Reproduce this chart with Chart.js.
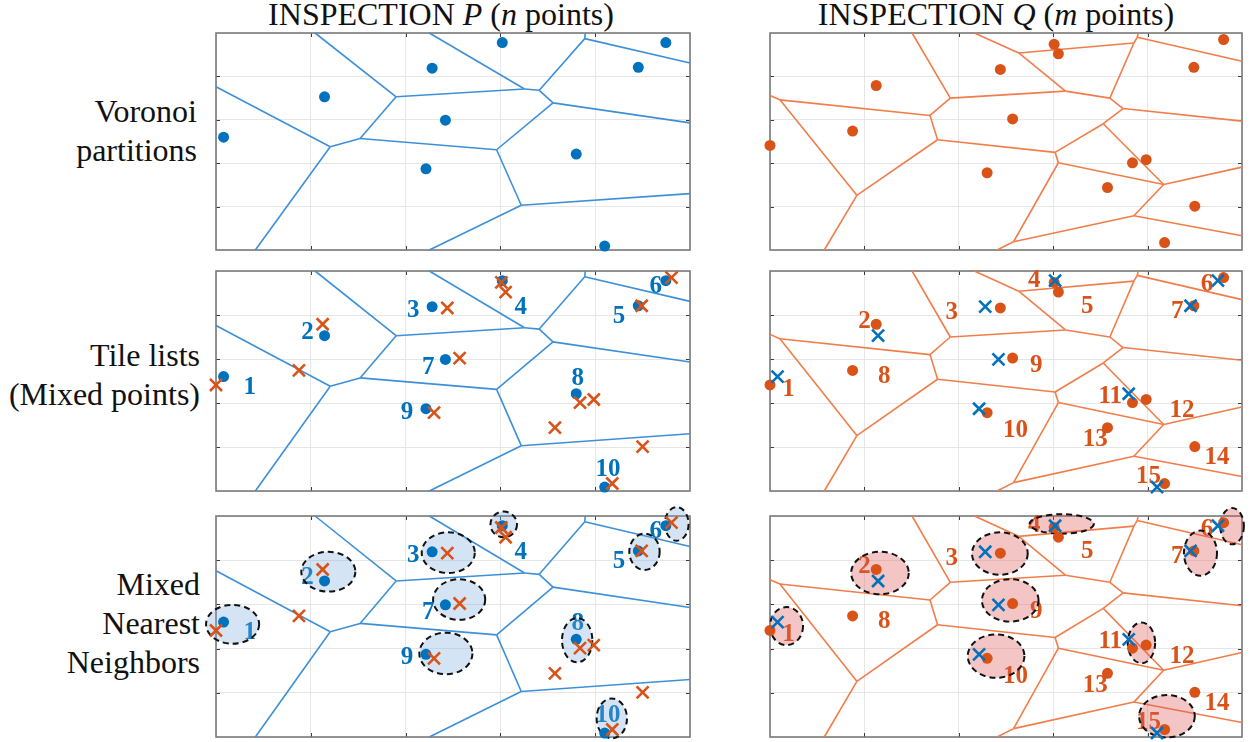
<!DOCTYPE html>
<html>
<head>
<meta charset="utf-8">
<title>Voronoi inspection</title>
<script src="https://cdn.jsdelivr.net/npm/chart.js@4.4.1/dist/chart.umd.min.js"></script>
<style>
  body { margin: 0; background: #fff; width: 1250px; height: 742px; position: relative; overflow: hidden;
         font-family: "Liberation Serif", "Times New Roman", serif; color: #111; }
  .title { position: absolute; top: -5px; font-size: 32px; line-height: 38px; text-align: center; white-space: nowrap; }
  .row { position: absolute; left: 0; width: 200px; text-align: right; font-size: 32px; line-height: 39px; white-space: nowrap; }
  .panel { position: absolute; }
</style>
</head>
<body>
<div class="title" style="left:204px;width:474px">INSPECTION <i>P</i> (<i>n</i> points)</div>
<div class="title" style="left:760px;width:472px">INSPECTION <i>Q</i> (<i>m</i> points)</div>
<div class="row" style="top:92px;width:197px">Voronoi<br>partitions</div>
<div class="row" style="top:336px">Tile lists<br>(Mixed points)</div>
<div class="row" style="top:565px">Mixed<br>Nearest<br>Neighbors</div>

<div class="panel" id="p1"><canvas id="cP1"></canvas></div>
<div class="panel" id="q1"><canvas id="cQ1"></canvas></div>
<div class="panel" id="p2"><canvas id="cP2"></canvas></div>
<div class="panel" id="q2"><canvas id="cQ2"></canvas></div>
<div class="panel" id="p3"><canvas id="cP3"></canvas></div>
<div class="panel" id="q3"><canvas id="cQ3"></canvas></div>

<script>
// axes: x 0..10, y 0..5 (grid every 2 / 1)
const X_TICKS = [2, 4, 6, 8];
const Y_TICKS = [1, 2, 3, 4];

// inspection P points (n = 10)
const P_X = [0.16, 2.29, 4.56, 6.04, 8.91, 9.49, 4.84, 7.60, 4.43, 8.20];
const P_Y = [2.60, 3.53, 4.19, 4.78, 4.21, 4.78, 2.99, 2.21, 1.87, 0.09];
// inspection Q points (m = 15)
const Q_X = [0.00, 2.25, 4.88, 6.02, 6.11, 9.61, 8.98, 1.75, 5.14, 4.60, 7.68, 7.97, 7.15, 9.00, 8.36];
const Q_Y = [2.41, 3.79, 4.16, 4.74, 4.52, 4.85, 4.21, 2.74, 3.02, 1.78, 2.01, 2.08, 1.44, 1.01, 0.17];

// number labels
const P_LBL_X = [0.71, 1.93, 4.16, 6.43, 8.50, 9.28, 4.48, 7.63, 4.03, 8.27];
const P_LBL_Y = [2.38, 3.63, 4.12, 4.20, 3.99, 4.67, 2.83, 2.58, 1.81, 0.51];
const Q_LBL_X = [0.39, 2.00, 3.85, 5.60, 6.72, 9.26, 8.63, 2.42, 5.64, 5.20, 7.21, 8.73, 6.89, 9.47, 8.02];
const Q_LBL_Y = [2.33, 3.88, 4.07, 4.81, 4.22, 4.71, 4.10, 2.63, 2.87, 1.40, 2.18, 1.84, 1.19, 0.78, 0.36];

// Voronoi vertices + edges for P
const P_VX = [2.09, 3.80, 0.00, 2.41, 3.04, 0.83, 4.50, 6.51, 6.82, 7.78, 7.79, 10.0, 7.11, 10.0, 5.92, 6.44, 10.0, 4.50];
const P_VY = [5.00, 3.53, 3.76, 2.38, 2.57, 0.00, 5.00, 3.71, 3.68, 4.87, 5.00, 4.31, 3.39, 2.93, 2.31, 1.03, 1.30, 0.00];
const P_EDGES = [[0,1],[2,3],[3,4],[4,1],[3,5],[6,7],[7,8],[1,7],[8,9],[9,10],[9,11],
                 [8,12],[12,13],[12,14],[4,14],[14,15],[15,16],[15,17]];

// Voronoi vertices + edges for Q
const Q_VX = [3.01, 3.82, 0.00, 0.21, 3.39, 3.55, 1.84, 1.15, 4.33, 5.27, 6.26, 7.78, 7.80, 7.71,
              10.0, 7.20, 7.48, 10.0, 7.06, 6.04, 6.11, 8.34, 10.0, 7.71, 10.0, 5.16, 4.81];
const Q_VY = [5.00, 3.50, 3.56, 3.46, 3.10, 2.54, 1.26, 0.00, 5.00, 4.54, 3.66, 4.90, 5.00, 4.77,
              4.35, 3.50, 3.26, 2.97, 2.91, 2.25, 2.01, 1.51, 1.91, 0.79, 0.33, 0.19, 0.00];
const Q_EDGES = [[0,1],[2,3],[3,4],[4,1],[4,5],[3,6],[6,5],[6,7],[1,10],[8,9],[9,10],[9,13],
                 [11,12],[11,14],[11,13],[13,15],[10,15],[15,16],[16,17],[16,18],[18,19],[18,21],
                 [5,19],[19,20],[20,21],[21,22],[21,23],[23,24],[23,25],[20,25],[25,26]];

// nearest-neighbour groups (centre x, centre y, radius x, radius y)
const P_ELL_X  = [0.35, 2.37, 4.90, 6.07, 9.04, 9.72, 5.13, 7.62, 4.85, 8.35];
const P_ELL_Y  = [2.55, 3.74, 4.17, 4.81, 4.19, 4.82, 3.11, 2.19, 1.89, 0.42];
const P_ELL_RX = [0.56, 0.57, 0.56, 0.28, 0.32, 0.25, 0.55, 0.32, 0.56, 0.32];
const P_ELL_RY = [0.44, 0.45, 0.46, 0.29, 0.41, 0.38, 0.46, 0.50, 0.47, 0.45];
const Q_ELL_X  = [0.35, 2.33, 4.87, 6.18, 9.79, 9.12, 5.09, 4.79, 7.87, 8.41];
const Q_ELL_Y  = [2.51, 3.71, 4.15, 4.82, 4.77, 4.16, 3.09, 1.83, 2.13, 0.47];
const Q_ELL_RX = [0.35, 0.61, 0.59, 0.68, 0.25, 0.35, 0.60, 0.60, 0.29, 0.59];
const Q_ELL_RY = [0.43, 0.48, 0.48, 0.22, 0.41, 0.51, 0.48, 0.49, 0.46, 0.48];

const BLUE = '#0072BD', ORANGE = '#D95319';
const BLUE_LINE = '#3d90d8', ORANGE_LINE = '#f07d4a';
const PAD = 22;

function pts(xs, ys) {
  return xs.map((x, i) => ({ x: x, y: ys[i] }));
}

function edgeSets(vx, vy, edges, color) {
  return edges.map(e => ({
    data: [{ x: vx[e[0]], y: vy[e[0]] }, { x: vx[e[1]], y: vy[e[1]] }],
    showLine: true, borderColor: color, borderWidth: 1.6, pointRadius: 0, clip: false
  }));
}

function dotSet(xs, ys, color) {
  return { data: pts(xs, ys), pointStyle: 'circle', pointRadius: 5.5, borderWidth: 0,
           backgroundColor: color, borderColor: color, showLine: false, clip: false };
}

function crossSet(xs, ys, color) {
  return { data: pts(xs, ys), pointStyle: 'crossRot', pointRadius: 8.5, borderWidth: 2.6,
           borderColor: color, backgroundColor: color, showLine: false, clip: false };
}

// box, inside ticks, labels and ellipses
function decor(cfg) {
  return {
    id: 'decor',
    beforeDatasetsDraw(chart) {
      const { ctx, chartArea: a, scales: { x, y } } = chart;
      ctx.save();
      ctx.strokeStyle = '#3a3a3a';
      ctx.lineWidth = 1;
      ctx.beginPath();
      X_TICKS.forEach(v => {
        const px = Math.round(x.getPixelForValue(v)) + 0.5;
        ctx.moveTo(px, a.top); ctx.lineTo(px, a.top + 4);
        ctx.moveTo(px, a.bottom); ctx.lineTo(px, a.bottom - 4);
      });
      Y_TICKS.forEach(v => {
        const py = Math.round(y.getPixelForValue(v)) + 0.5;
        ctx.moveTo(a.left, py); ctx.lineTo(a.left + 4, py);
        ctx.moveTo(a.right, py); ctx.lineTo(a.right - 4, py);
      });
      ctx.stroke();
      ctx.strokeStyle = '#7a7a7a';
      ctx.lineWidth = 1.6;
      ctx.strokeRect(a.left, a.top, a.right - a.left, a.bottom - a.top);
      ctx.restore();
    },
    beforeDatasetDraw(chart, args) {
      if (args.index !== cfg.dotIndex) return;
      const { ctx, scales: { x, y } } = chart;
      ctx.save();
      if (cfg.lblX) {
        ctx.font = 'bold 25px "Liberation Serif"';
        ctx.fillStyle = cfg.lblColor;
        ctx.textAlign = 'center';
        ctx.textBaseline = 'middle';
        cfg.lblX.forEach((lx, i) => {
          ctx.fillText(String(i + 1), x.getPixelForValue(lx), y.getPixelForValue(cfg.lblY[i]) + 1);
        });
      }
      if (cfg.ellX) {
        cfg.ellX.forEach((ex, i) => {
          const cx = x.getPixelForValue(ex), cy = y.getPixelForValue(cfg.ellY[i]);
          const rx = Math.abs(x.getPixelForValue(ex + cfg.ellRX[i]) - cx);
          const ry = Math.abs(y.getPixelForValue(cfg.ellY[i] + cfg.ellRY[i]) - cy);
          ctx.beginPath();
          ctx.ellipse(cx, cy, rx, ry, 0, 0, Math.PI * 2);
          ctx.fillStyle = cfg.ellFill;
          ctx.fill();
          ctx.setLineDash([6, 4]);
          ctx.lineWidth = 2;
          ctx.strokeStyle = '#111';
          ctx.stroke();
          ctx.setLineDash([]);
        });
      }
      ctx.restore();
    }
  };
}

function makePanel(divId, canvasId, left, top, w, h, datasets, cfg) {
  const div = document.getElementById(divId);
  div.style.left = (left - PAD) + 'px';
  div.style.top = (top - PAD) + 'px';
  const canvas = document.getElementById(canvasId);
  canvas.width = w + 2 * PAD;
  canvas.height = h + 2 * PAD;
  new Chart(canvas, {
    type: 'scatter',
    data: { datasets: datasets },
    options: {
      responsive: false,
      animation: false,
      devicePixelRatio: 1,
      events: [],
      layout: { padding: PAD, autoPadding: false },
      plugins: { legend: { display: false }, tooltip: { enabled: false } },
      scales: {
        x: { min: 0, max: 10, ticks: { display: false, stepSize: 2 },
             grid: { color: '#e6e6e6', lineWidth: 1, drawTicks: false }, border: { display: false } },
        y: { min: 0, max: 5, ticks: { display: false, stepSize: 1 },
             grid: { color: '#e6e6e6', lineWidth: 1, drawTicks: false }, border: { display: false } }
      }
    },
    plugins: [decor(cfg)]
  });
}

const P_LEFT = 216, P_W = 474, Q_LEFT = 770, Q_W = 472;
const ROWS = [[33, 217], [271, 220], [516, 221]];

// row 1: Voronoi partitions
makePanel('p1', 'cP1', P_LEFT, ROWS[0][0], P_W, ROWS[0][1],
  [dotSet(P_X, P_Y, BLUE)].concat(edgeSets(P_VX, P_VY, P_EDGES, BLUE_LINE)), { dotIndex: 0 });
makePanel('q1', 'cQ1', Q_LEFT, ROWS[0][0], Q_W, ROWS[0][1],
  [dotSet(Q_X, Q_Y, ORANGE)].concat(edgeSets(Q_VX, Q_VY, Q_EDGES, ORANGE_LINE)), { dotIndex: 0 });

// row 2: tile lists
makePanel('p2', 'cP2', P_LEFT, ROWS[1][0], P_W, ROWS[1][1],
  [crossSet(Q_X, Q_Y, ORANGE), dotSet(P_X, P_Y, BLUE)].concat(edgeSets(P_VX, P_VY, P_EDGES, BLUE_LINE)),
  { dotIndex: 1, lblX: P_LBL_X, lblY: P_LBL_Y, lblColor: BLUE });
makePanel('q2', 'cQ2', Q_LEFT, ROWS[1][0], Q_W, ROWS[1][1],
  [crossSet(P_X, P_Y, BLUE), dotSet(Q_X, Q_Y, ORANGE)].concat(edgeSets(Q_VX, Q_VY, Q_EDGES, ORANGE_LINE)),
  { dotIndex: 1, lblX: Q_LBL_X, lblY: Q_LBL_Y, lblColor: ORANGE });

// row 3: mixed nearest neighbours
makePanel('p3', 'cP3', P_LEFT, ROWS[2][0], P_W, ROWS[2][1],
  [crossSet(Q_X, Q_Y, ORANGE), dotSet(P_X, P_Y, BLUE)].concat(edgeSets(P_VX, P_VY, P_EDGES, BLUE_LINE)),
  { dotIndex: 1, lblX: P_LBL_X, lblY: P_LBL_Y, lblColor: BLUE,
    ellX: P_ELL_X, ellY: P_ELL_Y, ellRX: P_ELL_RX, ellRY: P_ELL_RY, ellFill: 'rgba(120, 170, 220, 0.32)' });
makePanel('q3', 'cQ3', Q_LEFT, ROWS[2][0], Q_W, ROWS[2][1],
  [crossSet(P_X, P_Y, BLUE), dotSet(Q_X, Q_Y, ORANGE)].concat(edgeSets(Q_VX, Q_VY, Q_EDGES, ORANGE_LINE)),
  { dotIndex: 1, lblX: Q_LBL_X, lblY: Q_LBL_Y, lblColor: ORANGE,
    ellX: Q_ELL_X, ellY: Q_ELL_Y, ellRX: Q_ELL_RX, ellRY: Q_ELL_RY, ellFill: 'rgba(220, 90, 90, 0.35)' });
</script>
</body>
</html>
